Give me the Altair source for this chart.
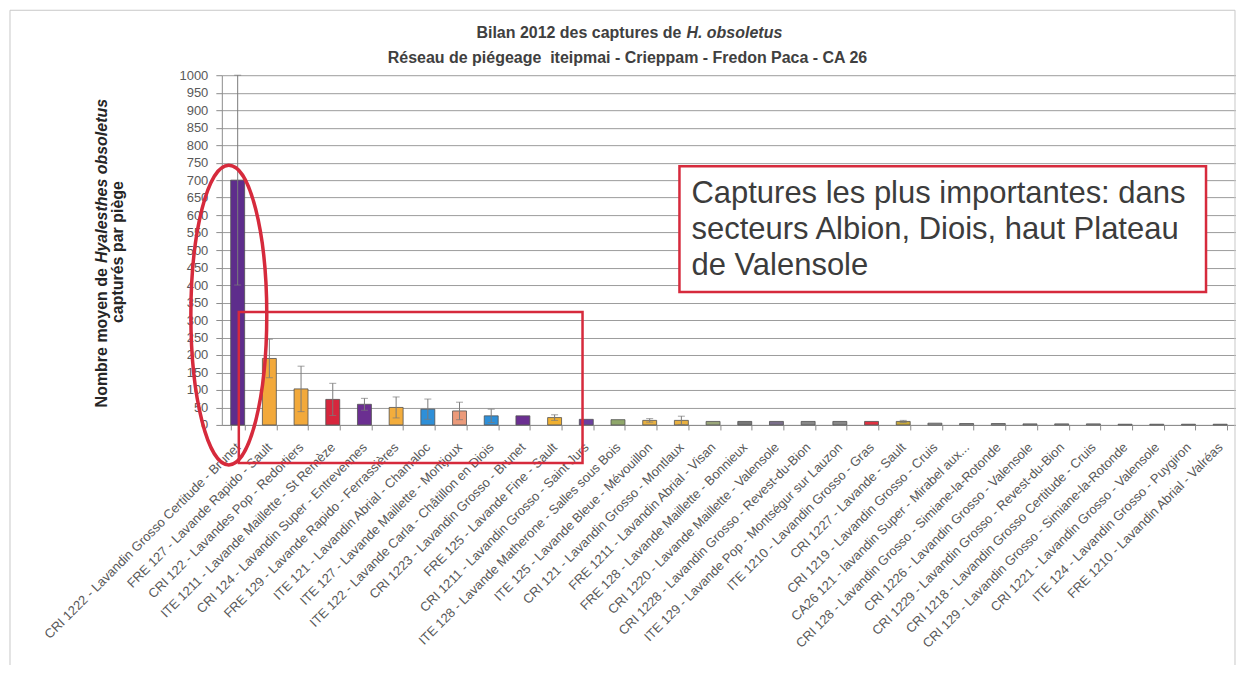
import altair as alt
import pandas as pd

categories = [
    "CRI 1222 - Lavandin Grosso Certitude - Brunet",
    "FRE 127 - Lavande Rapido - Sault",
    "CRI 122 - Lavandes Pop - Redortiers",
    "ITE 1211 - Lavande Maillette - St Remèze",
    "CRI 124 - Lavandin Super - Entrevennes",
    "FRE 129 - Lavande Rapido - Ferrassières",
    "ITE 121 - Lavandin Abrial - Chamaloc",
    "ITE 127 - Lavande Maillette - Montjoux",
    "ITE 122 - Lavande Carla - Châtillon en Diois",
    "CRI 1223 - Lavandin Grosso - Brunet",
    "FRE 125 - Lavande Fine - Sault",
    "CRI 1211 - Lavandin Grosso - Saint Jurs",
    "ITE 128 - Lavande Matherone - Salles sous Bois",
    "ITE 125 - Lavande Bleue - Mévouillon",
    "CRI 121 - Lavandin Grosso - Montlaux",
    "FRE 1211 - Lavandin Abrial - Visan",
    "FRE 128 - Lavande Maillette - Bonnieux",
    "CRI 1220 - Lavande Maillette - Valensole",
    "CRI 1228 - Lavandin Grosso - Revest-du-Bion",
    "ITE 129 - Lavande Pop - Montségur sur Lauzon",
    "ITE 1210 - Lavandin Grosso - Gras",
    "CRI 1227 - Lavande - Sault",
    "CRI 1219 - Lavandin Grosso - Cruis",
    "CA26 121 - lavandin Super - Mirabel aux...",
    "CRI 128 - Lavandin Grosso - Simiane-la-Rotonde",
    "CRI 1226 - Lavandin Grosso - Valensole",
    "CRI 1229 - Lavandin Grosso - Revest-du-Bion",
    "CRI 1218 - Lavandin Grosso Certitude - Cruis",
    "CRI 129 - Lavandin Grosso - Simiane-la-Rotonde",
    "CRI 1221 - Lavandin Grosso - Valensole",
    "ITE 124 - Lavandin Grosso - Puygiron",
    "FRE 1210 - Lavandin Abrial - Valréas",
]

values = [700, 190, 103, 73, 59, 50, 45, 40, 26, 26, 21, 16, 15, 13, 13,
          10, 10, 10, 10, 10, 10, 10, 5, 4, 4, 3, 3, 3, 2, 2, 2, 2]

errors = [300, 55, 65, 46, 17, 30, 29, 25, 19, 0, 8, 0, 0, 5, 12,
          0, 0, 0, 0, 0, 0, 3, 0, 0, 0, 0, 0, 0, 0, 0, 0, 0]

colors = ["#5e2d8c", "#f2a93b", "#f2a93b", "#d7263d", "#6b2f91", "#f3ad3c",
          "#2e8fd8", "#eb9a7a", "#2e8fd8", "#6b2f91", "#f0b030", "#6b3fa0",
          "#8fa76a", "#e8b040", "#e8b040", "#9aa67a", "#777777", "#7a6f8a",
          "#888888", "#888888", "#e03040", "#c8a838", "#999999", "#999999",
          "#999999", "#9a9a9a", "#9a9a9a", "#9a9a9a", "#9a9a9a", "#9a9a9a",
          "#9a9a9a", "#9a9a9a"]

y_ticks = list(range(0, 1001, 50))

title_line1_a = "Bilan 2012 des captures de"
title_line1_b = "H. obsoletus"
title_line2 = "Réseau de piégeage\u00a0 iteipmai - Crieppam - Fredon Paca - CA 26"
ytitle_a = "Nombre moyen de"
ytitle_b = "Hyalesthes obsoletus"
ytitle_2 = "capturés par piège"
note_lines = ["Captures les plus importantes: dans",
              "secteurs Albion, Diois, haut Plateau",
              "de Valensole"]

FONT = "Liberation Sans"
RED = "#d62a3c"

df = pd.DataFrame({"cat": categories, "val": values, "err": errors, "col": colors})
df["lo"] = df["val"] - df["err"]
df["hi"] = df["val"] + df["err"]

xscale = alt.Scale(paddingInner=0.56, paddingOuter=0.28)
yscale = alt.Scale(domain=[0, 1000], nice=False)

x_axis = alt.Axis(title=None, labelAngle=-45, labelAlign="right", labelBaseline="middle",
                  labelFontSize=13, labelColor="#595959", labelFont=FONT, labelLimit=400,
                  labelPadding=15, tickBand="extent", tickSize=5, tickColor="#8c8c8c",
                  domainColor="#8c8c8c", grid=False, labelOverlap=False)
y_axis = alt.Axis(title=None, values=y_ticks, format="d", labelFontSize=13,
                  labelColor="#595959", labelFont=FONT, tickSize=6, tickColor="#8c8c8c",
                  domainColor="#8c8c8c", gridColor="#9c9c9c", gridWidth=1, labelPadding=8)

base = alt.Chart(df)
X = alt.X("cat:N", sort=categories, scale=xscale, axis=x_axis)

bars = base.mark_bar(stroke="#505050", strokeWidth=0.8).encode(
    x=X, y=alt.Y("val:Q", scale=yscale, axis=y_axis),
    color=alt.Color("col:N", scale=None))

errbase = base.transform_filter("datum.err > 0")
err_rule = errbase.mark_rule(color="#7a7a7a", strokeWidth=1).encode(
    x=X, y=alt.Y("lo:Q", scale=yscale, axis=y_axis), y2="hi:Q")
cap_hi = errbase.mark_tick(color="#7a7a7a", thickness=1, size=7).encode(
    x=X, y=alt.Y("hi:Q", scale=yscale, axis=y_axis))
cap_lo = errbase.mark_tick(color="#7a7a7a", thickness=1, size=7).encode(
    x=X, y=alt.Y("lo:Q", scale=yscale, axis=y_axis))

one = pd.DataFrame({"a": [0]})
ann = alt.Chart(one)

frame = ann.mark_rect(fillOpacity=0, stroke="#c8c8c8", strokeWidth=1).encode(
    x=alt.value(-212), x2=alt.value(1014), y=alt.value(-65), y2=alt.value(600))

t1a = ann.mark_text(font=FONT, fontSize=16, fontWeight="bold", color="#404040",
                    align="right", baseline="alphabetic").encode(
    x=alt.value(460), y=alt.value(-37), text=alt.value(title_line1_a))
t1b = ann.mark_text(font=FONT, fontSize=16, fontWeight="bold", fontStyle="italic",
                    color="#404040", align="left", baseline="alphabetic").encode(
    x=alt.value(465), y=alt.value(-37), text=alt.value(title_line1_b))
t2 = ann.mark_text(font=FONT, fontSize=16, fontWeight="bold", color="#404040",
                   align="center", baseline="alphabetic").encode(
    x=alt.value(406), y=alt.value(-12), text=alt.value(title_line2))

ya = ann.mark_text(font=FONT, fontSize=16, fontWeight="bold", color="#262626",
                   align="right", baseline="alphabetic", angle=270).encode(
    x=alt.value(-115), y=alt.value(193), text=alt.value(ytitle_a))
yb = ann.mark_text(font=FONT, fontSize=16, fontWeight="bold", fontStyle="italic",
                   color="#262626", align="left", baseline="alphabetic", angle=270).encode(
    x=alt.value(-115), y=alt.value(188), text=alt.value(ytitle_b))
y2t = ann.mark_text(font=FONT, fontSize=16, fontWeight="bold", color="#262626",
                    align="center", baseline="alphabetic", angle=270).encode(
    x=alt.value(-99), y=alt.value(177), text=alt.value(ytitle_2))

red_rect = ann.mark_rect(fillOpacity=0, stroke=RED, strokeWidth=2.5).encode(
    x=alt.value(17), x2=alt.value(361), y=alt.value(237), y2=alt.value(388))

k = 0.5523
a = 0.2533
ellipse_path = (f"M 0,-1 C {k*a:.4f},-1 {a},{-k} {a},0 "
                f"C {a},{k} {k*a:.4f},1 0,1 "
                f"C {-k*a:.4f},1 {-a},{k} {-a},0 "
                f"C {-a},{-k} {-k*a:.4f},-1 0,-1 Z")
ellipse = ann.mark_point(shape=ellipse_path, size=90000, filled=False, stroke=RED,
                         strokeWidth=3.5, opacity=1).encode(
    x=alt.value(7), y=alt.value(240))

note_box = ann.mark_rect(fill="white", stroke=RED, strokeWidth=2.5).encode(
    x=alt.value(458), x2=alt.value(985), y=alt.value(91), y2=alt.value(217))
note_text = ann.mark_text(font=FONT, fontSize=31, color="#3c3c3c", align="left",
                          baseline="alphabetic", lineHeight=36).encode(
    x=alt.value(470), y=alt.value(128), text=alt.value(note_lines))

chart = alt.layer(
    bars, err_rule, cap_hi, cap_lo, frame, red_rect, ellipse, note_box, note_text,
    t1a, t1b, t2, ya, yb, y2t
).properties(
    width=1015, height=350,
    autosize=alt.AutoSizeParams(type="none"),
    padding={"left": 214, "top": 67, "right": 0, "bottom": 240},
).configure(background="white").configure_view(stroke="transparent")

chart.save("out.html", embed_options={"renderer": "svg", "actions": False})
